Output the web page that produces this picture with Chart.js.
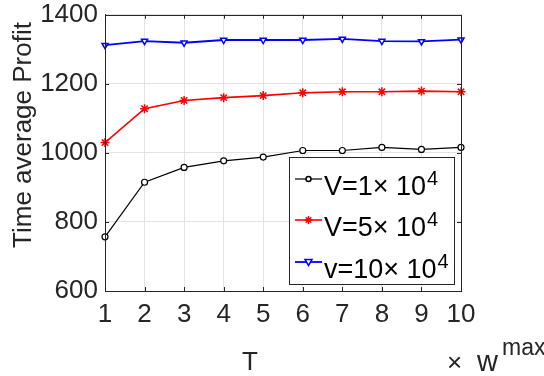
<!DOCTYPE html>
<html>
<head>
<meta charset="utf-8">
<script src="https://cdn.jsdelivr.net/npm/chart.js@4/dist/chart.umd.min.js"></script>
<style>
  html, body { margin: 0; padding: 0; background: #fff; }
  #wrap { width: 544px; height: 376px; }
</style>
</head>
<body>
<div id="wrap"><canvas id="myChart" width="544" height="376"></canvas></div>
<script>
const labels = ['1', '2', '3', '4', '5', '6', '7', '8', '9', '10'];

const profitV1 = [757, 915, 958, 977, 988, 1007, 1007, 1016, 1010, 1016];
const profitV5 = [1030, 1128, 1152, 1160, 1166, 1174, 1177, 1177, 1179, 1177];
const profitV10 = [1312, 1324, 1319, 1327, 1327, 1327, 1330, 1324, 1323, 1328];

const legendText = ['V=1\u00d7 10', 'V=5\u00d7 10', 'v=10\u00d7 10'];
const legendSup = '4';

const FONT = '"Liberation Sans", Arial, sans-serif';
const INK = '#262626';

const data = {
    labels: labels,
    datasets: [{
        label: legendText[0],
        data: profitV1,
        borderColor: '#000000',
        backgroundColor: '#ffffff',
        borderWidth: 1.2,
        pointStyle: 'circle',
        pointRadius: 3,
        pointBorderWidth: 1.2,
        pointBackgroundColor: '#ffffff',
    }, {
        label: legendText[1],
        data: profitV5,
        borderColor: '#ff0000',
        backgroundColor: '#ff0000',
        borderWidth: 1.6,
        pointStyle: 'star',
        pointRadius: 4.5,
        pointBorderWidth: 1.5,
    }, {
        label: legendText[2],
        data: profitV10,
        borderColor: '#0000ff',
        backgroundColor: '#ffffff',
        borderWidth: 1.8,
        pointStyle: 'triangle',
        pointRotation: 180,
        pointRadius: 3.5,
        pointBorderWidth: 1.5,
        pointBackgroundColor: '#ffffff',
    }]
};

function drawMarker(ctx, style, cx, cy, color) {
    ctx.save();
    ctx.strokeStyle = color;
    ctx.lineWidth = 1.5;
    ctx.beginPath();
    if (style === 'circle') {
        ctx.fillStyle = '#fff';
        ctx.arc(cx, cy, 2.5, 0, Math.PI * 2);
        ctx.fill();
        ctx.stroke();
    } else if (style === 'star') {
        const r = 4;
        for (let k = 0; k < 4; k++) {
            const ang = k * Math.PI / 4;
            ctx.moveTo(cx - r * Math.cos(ang), cy - r * Math.sin(ang));
            ctx.lineTo(cx + r * Math.cos(ang), cy + r * Math.sin(ang));
        }
        ctx.stroke();
    } else {
        ctx.fillStyle = '#fff';
        ctx.moveTo(cx - 3.5, cy - 2.5);
        ctx.lineTo(cx + 3.5, cy - 2.5);
        ctx.lineTo(cx, cy + 3.5);
        ctx.closePath();
        ctx.fill();
        ctx.stroke();
    }
    ctx.restore();
}

const decor = {
    id: 'decor',
    afterDraw(chart) {
        const ctx = chart.ctx;
        const a = chart.chartArea;
        const x = chart.scales.x;
        const y = chart.scales.y;
        ctx.save();

        // box and inward ticks
        ctx.strokeStyle = INK;
        ctx.lineWidth = 1;
        ctx.strokeRect(Math.round(a.left) + 0.5, Math.round(a.top) + 0.5,
            Math.round(a.right - a.left), Math.round(a.bottom - a.top));
        ctx.beginPath();
        labels.forEach((l, i) => {
            const px = Math.round(x.getPixelForValue(i)) + 0.5;
            ctx.moveTo(px, a.bottom); ctx.lineTo(px, a.bottom - 4);
            ctx.moveTo(px, a.top); ctx.lineTo(px, a.top + 4);
        });
        y.ticks.forEach(t => {
            const py = Math.round(y.getPixelForValue(t.value)) + 0.5;
            ctx.moveTo(a.left, py); ctx.lineTo(a.left + 4, py);
            ctx.moveTo(a.right, py); ctx.lineTo(a.right - 4, py);
        });
        ctx.stroke();

        // axis titles
        ctx.fillStyle = INK;
        ctx.font = '26px ' + FONT;
        ctx.textAlign = 'center';
        ctx.textBaseline = 'alphabetic';
        ctx.fillText('T', 250, 370);
        ctx.textAlign = 'left';
        ctx.fillText('\u00d7', 447, 371);
        ctx.font = '29px ' + FONT;
        ctx.fillText('w', 477, 371);
        ctx.font = '23px ' + FONT;
        ctx.fillText('max', 502, 355);

        ctx.save();
        ctx.translate(24, 135);
        ctx.rotate(-Math.PI / 2);
        ctx.font = '26px ' + FONT;
        ctx.textAlign = 'center';
        ctx.textBaseline = 'middle';
        ctx.fillText('Time average Profit', 0, 0);
        ctx.restore();

        // legend
        const bx = 289, by = 157, bw = 165, bh = 127;
        ctx.fillStyle = '#fff';
        ctx.fillRect(bx, by, bw, bh);
        ctx.strokeStyle = INK;
        ctx.lineWidth = 1;
        ctx.strokeRect(bx + 0.5, by + 0.5, bw, bh);
        const rows = [179, 220, 262];
        chart.data.datasets.forEach((ds, i) => {
            const ry = rows[i];
            ctx.strokeStyle = ds.borderColor;
            ctx.lineWidth = ds.borderWidth;
            ctx.beginPath();
            ctx.moveTo(295, ry); ctx.lineTo(322, ry);
            ctx.stroke();
            drawMarker(ctx, ds.pointStyle, 308.5, ry, ds.borderColor);
            ctx.fillStyle = '#000';
            ctx.textAlign = 'left';
            ctx.textBaseline = 'alphabetic';
            ctx.font = '27px ' + FONT;
            ctx.fillText(legendText[i], 324, ry + 16);
            const w = ctx.measureText(legendText[i]).width;
            ctx.font = '20px ' + FONT;
            ctx.fillText(legendSup, 324 + w + 1, ry + 6);
        });
        ctx.restore();
    }
};

const config = {
    type: 'line',
    data: data,
    options: {
        responsive: false,
        animation: false,
        layout: { padding: { left: 0, right: 83, top: 0, bottom: 0 } },
        plugins: {
            legend: { display: false },
            tooltip: { enabled: false },
        },
        scales: {
            x: {
                offset: false,
                grid: { color: '#e3e3e3', drawTicks: false },
                border: { color: INK },
                ticks: {
                    color: INK,
                    font: { family: FONT, size: 26 },
                    padding: 8,
                    maxRotation: 0,
                },
                afterFit(s) { s.height = 85; },
            },
            y: {
                min: 600,
                max: 1400,
                grid: { color: '#e3e3e3', drawTicks: false },
                border: { color: INK },
                ticks: {
                    stepSize: 200,
                    color: INK,
                    font: { family: FONT, size: 26, lineHeight: 0.6 },
                    padding: 7,
                    callback: v => String(v),
                },
                afterFit(s) { s.width = 105; },
            },
        },
    },
    plugins: [decor],
};

new Chart(
    document.getElementById('myChart'),
    config
);
</script>
</body>
</html>
